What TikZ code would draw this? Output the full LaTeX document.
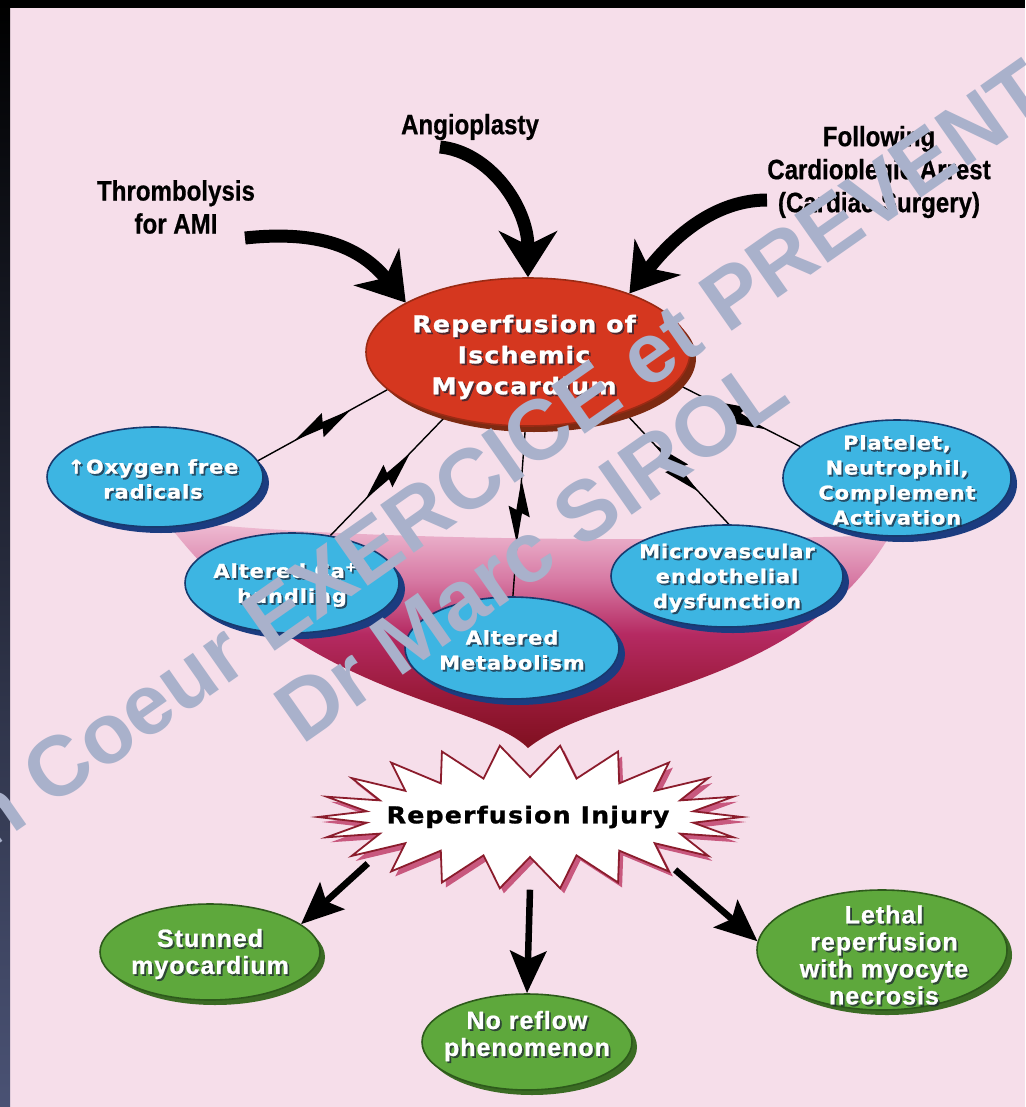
\documentclass[tikz,border=0pt]{standalone}
\usepackage{fontspec}
\usetikzlibrary{arrows.meta,shadows,shapes.geometric,calc}
\newfontfamily\labfont{Liberation Sans}[FakeStretch=0.86,FakeBold=0.6]
\newfontfamily\ellfont{DejaVu Sans}[FakeStretch=1.1,FakeBold=1.2,LetterSpace=5]
\newfontfamily\grnfont{Liberation Sans}[FakeBold=0.8,LetterSpace=4]
\newfontfamily\wmfont{Liberation Sans}
\definecolor{pinkbg}{HTML}{F6DEEA}
\definecolor{navyband}{HTML}{4A5274}
\definecolor{funA}{HTML}{F0C0D6}
\definecolor{funB}{HTML}{D77AA4}
\definecolor{funC}{HTML}{B52A62}
\definecolor{funD}{HTML}{9A1A3A}
\definecolor{funE}{HTML}{801020}
\definecolor{redfill}{HTML}{D5371F}
\definecolor{rededge}{HTML}{9B2A14}
\definecolor{redshadow}{HTML}{7D2A12}
\definecolor{bluefill}{HTML}{3DB5E2}
\definecolor{blueedge}{HTML}{173A6E}
\definecolor{blueshadow}{HTML}{1B3C80}
\definecolor{greenfill}{HTML}{5EA83C}
\definecolor{greenedge}{HTML}{2D5A1B}
\definecolor{greenshadow}{HTML}{3B6B24}
\definecolor{burstedge}{HTML}{8B1C2C}
\definecolor{burstshadow}{HTML}{C8587E}
\definecolor{wmcol}{HTML}{A9B1CB}
\definecolor{txtshadow}{HTML}{1C2233}
\pgfdeclareverticalshading{funnelshade}{100bp}{color(0bp)=(funE); color(25bp)=(funE); color(37bp)=(funD); color(50bp)=(funC); color(62bp)=(funB); color(75bp)=(funA); color(100bp)=(funA)}
\pgfdeclarelayer{back}
\pgfdeclarelayer{mid}
\pgfsetlayers{back,mid,main}
% text with a dark drop shadow: name, position, style, text
\newcommand\shtext[4]{%
  \node[#3, text=txtshadow, text opacity=0.7] (#1s) at ($(#2)+(1.8,1.8)$) {#4};
  \node[#3] (#1) at (#2) {#4};}
\begin{document}
\begin{tikzpicture}[x=1pt,y=-1pt,
  labtxt/.style={font={\labfont\bfseries\fontsize{28}{33}\selectfont}, align=center, inner sep=0pt, text=black},
  elltxt/.style={font={\ellfont\bfseries\fontsize{19}{25}\selectfont}, align=center, text=white, inner sep=0pt},
  redtxt/.style={font={\ellfont\bfseries\fontsize{23}{31}\selectfont}, align=center, text=white, inner sep=0pt},
  grntxt/.style={font={\grnfont\bfseries\fontsize{25}{27}\selectfont}, align=center, text=white, inner sep=0pt},
  injtxt/.style={font={\ellfont\bfseries\fontsize{23}{28}\selectfont}, text=black, inner sep=0pt},
  wmtxt/.style={font={\wmfont\bfseries\fontsize{85}{90}\selectfont}, text=wmcol, inner sep=0pt},
  redell/.style={ellipse, inner sep=0pt, fill=redfill, draw=rededge, line width=1.6pt,
    drop shadow={shadow xshift=6pt, shadow yshift=-6pt, fill=redshadow, opacity=1}},
  blueell/.style={ellipse, inner sep=0pt, fill=bluefill, draw=blueedge, line width=1.6pt,
    drop shadow={shadow xshift=6pt, shadow yshift=-6pt, fill=blueshadow, opacity=1}},
  greenell/.style={ellipse, inner sep=0pt, fill=greenfill, draw=greenedge, line width=1.6pt,
    drop shadow={shadow xshift=5pt, shadow yshift=-5pt, fill=greenshadow, opacity=1}},
  conn/.style={line width=1.4pt, black},
  bigarrow/.style={line width=13pt, black, -{Stealth[length=46pt,width=58pt,inset=14pt]}},
  botarrow/.style={line width=6.5pt, black, -{Stealth[length=42pt,width=36pt,inset=8pt]}},
  burst/.style={fill=white, draw=burstedge, line width=1.8pt, line join=miter,
    drop shadow={shadow xshift=4pt, shadow yshift=-5pt, fill=burstshadow, opacity=1}},
  bolt/.pic={\fill[black] (-32,0) -- (5,-11) -- (-1,3) -- cycle;
             \fill[black] (32,0) -- (-5,11) -- (1,-3) -- cycle;}
]
\useasboundingbox (0,0) rectangle (1025,1107);

\begin{pgfonlayer}{back}
  \fill[pinkbg] (0,0) rectangle (1025,1107);
  \shade[top color=black, bottom color=navyband] (0,0) rectangle (10,1107);
  \fill[black] (0,0) rectangle (1025,8);
  \shade[shading=funnelshade]
    (165,520) .. controls (350,542) and (700,542) .. (890,535)
    .. controls (800,690) and (600,690) .. (528,748)
    .. controls (480,700) and (300,700) .. (165,520) -- cycle;
\end{pgfonlayer}

% top labels
\node[labtxt] (ang) at (470,127) {Angioplasty};
\node[labtxt] (thr) at (176,207) {Thrombolysis\\for AMI};
\node[labtxt] (fol) at (879,172) {Following\\Cardioplegic Arrest\\(Cardiac Surgery)};
\coordinate (thrS) at (245,238);
\coordinate (angS) at (440,147);
\coordinate (folS) at (767,200);

% ellipses
\node[redell, minimum width=324, minimum height=148] (red) at (528,352) {};
\shtext{redT}{524,357}{redtxt}{Reperfusion of\\Ischemic\\Myocardium}

\node[blueell, minimum width=216, minimum height=100] (ox) at (155,477) {};
\shtext{oxT}{153,479}{elltxt}{↑Oxygen free\\radicals}
\node[blueell, minimum width=214, minimum height=100] (ca) at (292,583) {};
\shtext{caT}{292,585}{elltxt}{Altered Ca\textsuperscript{++}\\handling}
\node[blueell, minimum width=214, minimum height=102] (met) at (512,648) {};
\shtext{metT}{512,650}{elltxt}{Altered\\Metabolism}
\node[blueell, minimum width=232, minimum height=102] (mic) at (727,576) {};
\shtext{micT}{727,578}{elltxt}{Microvascular\\endothelial\\dysfunction}
\node[blueell, minimum width=228, minimum height=116] (pla) at (897,478) {};
\shtext{plaT}{897,480}{elltxt}{Platelet,\\Neutrophil,\\Complement\\Activation}

% starburst and outcomes
\node[ellipse, minimum width=422, minimum height=145, inner sep=0pt] (inj) at (530,817) {};
\node[injtxt] (injT) at (528,817) {Reperfusion Injury};
\node[greenell, minimum width=220, minimum height=96] (stun) at (210,952) {};
\shtext{stunT}{210,954}{grntxt}{Stunned\\myocardium}
\node[greenell, minimum width=210, minimum height=96] (noref) at (527,1042) {};
\shtext{norefT}{527,1036}{grntxt}{No reflow\\phenomenon}
\node[greenell, minimum width=250, minimum height=120] (leth) at (882,950) {};
\shtext{lethT}{884,955}{grntxt}{Lethal\\reperfusion\\with myocyte\\necrosis}

\begin{pgfonlayer}{mid}
  % input arrows
  \draw[bigarrow] (thrS) .. controls +(75,-8) and +(-45,-55) .. (red.158);
  \draw[bigarrow] (angS) .. controls +(50,5) and +(0,-70) .. (red.90);
  \draw[bigarrow] (folS) .. controls +(-60,0) and +(35,-45) .. (red.30);
  % lightning connectors
  \draw[conn] (red.195) -- (ox.9) pic[pos=0.5, sloped]{bolt};
  \draw[conn] (red.218) -- (ca.51) pic[pos=0.5, sloped]{bolt};
  \draw[conn] (red.268) -- (met.89) pic[pos=0.5, sloped]{bolt};
  \draw[conn] (red.328) -- (mic.88) pic[pos=0.5, sloped]{bolt};
  \draw[conn] (red.348) -- (pla.162) pic[pos=0.5, sloped]{bolt};
  % outcome arrows
  \draw[botarrow] (inj.196) -- (stun.17);
  \draw[botarrow] (inj.270) -- (noref.90);
  \draw[botarrow] (inj.340) -- (leth.176);
  % starburst
  \begin{scope}[shift={(inj.center)}]
    \draw[burst] plot[samples at={0,...,43}, variable=\k]
      ({ifthenelse(iseven(\k),212,165)*cos(\k*360/44)},
       {ifthenelse(iseven(\k),72,40)*sin(\k*360/44)}) -- cycle;
  \end{scope}
\end{pgfonlayer}

% watermark
\begin{scope}
  \clip (0,0) rectangle (1025,1107);
  \node[wmtxt, anchor=base west, rotate=35] (wm1) at (-12,852) {n Coeur EXERCICE et PREVENTION};
  \node[wmtxt, anchor=base west, rotate=35] (wm2) at (302,746) {Dr Marc SIROL};
\end{scope}
\end{tikzpicture}
\end{document}
